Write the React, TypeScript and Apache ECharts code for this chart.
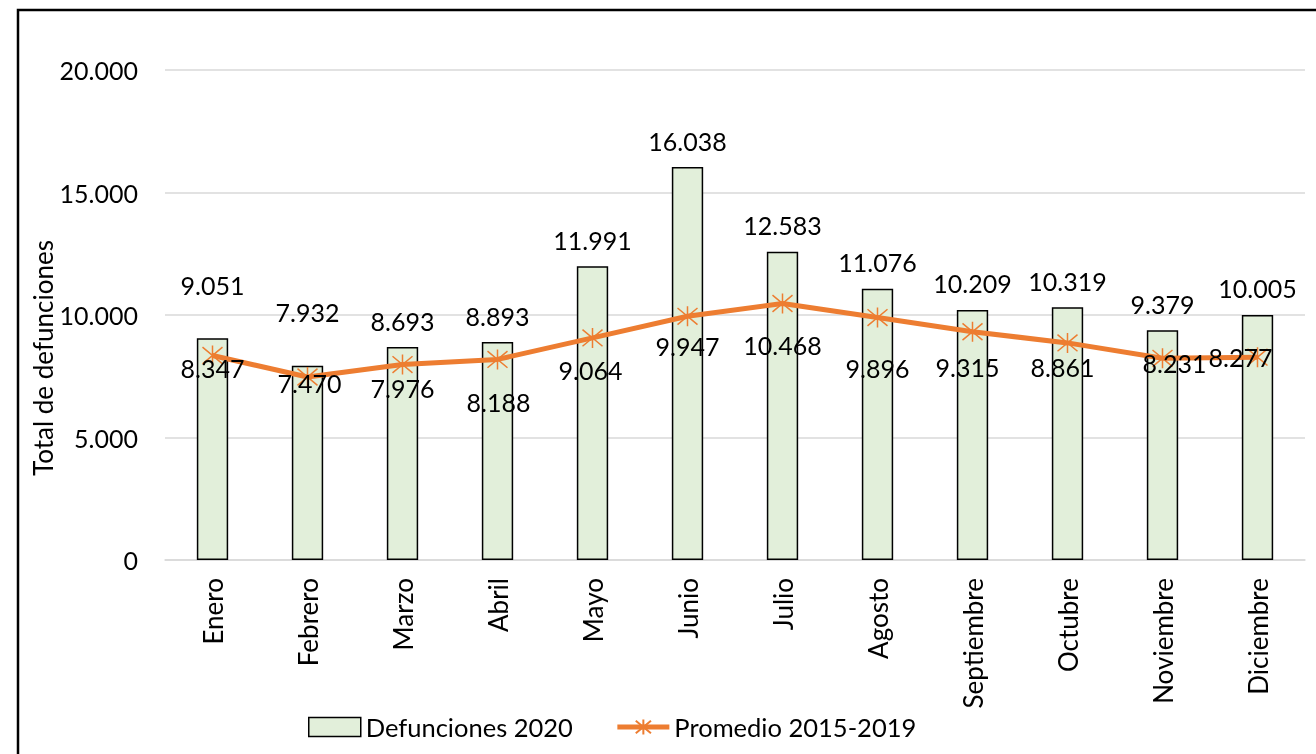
import React, { useEffect, useRef } from "react";
import * as echarts from "echarts";

const months = ["Enero", "Febrero", "Marzo", "Abril", "Mayo", "Junio", "Julio", "Agosto", "Septiembre", "Octubre", "Noviembre", "Diciembre"];
const deaths2020 = [9051, 7932, 8693, 8893, 11991, 16038, 12583, 11076, 10209, 10319, 9379, 10005];
const avg2015_2019 = [8347, 7470, 7976, 8188, 9064, 9947, 10468, 9896, 9315, 8861, 8231, 8277];
const yTicks = { min: 0, max: 20000, interval: 5000 };

// label placement tweaks (presentation only)
const lineLabelShift: [number, number][] = [
  [0, 13], [2, 6], [0, 23], [1, 43], [-2, 32], [0, 30], [0, 41], [0, 50], [-5, 35], [-5, 24], [12, 5], [-17, 0],
];
const barLabelExtra = [27, 27, 0, 0, 0, 0, 0, 0, 0, 0, 0, 0];

const FONT = "Lato";
const fmt = (v: number) => String(v).replace(/\B(?=(\d{3})+(?!\d))/g, ".");

export default function App() {
  const ref = useRef<HTMLDivElement>(null);
  useEffect(() => {
    if (!ref.current) return;
    const chart = echarts.init(ref.current, null, { renderer: "svg" });
    chart.setOption({
      animation: false,
      textStyle: { fontFamily: FONT },
      graphic: [
        {
          type: "rect",
          shape: { x: 18, y: 10, width: 1400, height: 900 },
          style: { fill: "none", stroke: "#000", lineWidth: 2.5 },
          silent: true,
        },
      ],
      grid: { left: 165, right: 11, top: 70, bottom: 194, containLabel: false },
      legend: {
        left: 303,
        top: 709,
        itemGap: 42,
        textStyle: { fontFamily: FONT, fontSize: 25.5, color: "#000" },
        data: [
          { name: "Defunciones 2020", icon: "rect", itemStyle: { color: "#E2EFDA", borderColor: "#000", borderWidth: 1.5 } },
          { name: "Promedio 2015-2019", lineStyle: { width: 5, color: "#ED7D31" } },
        ],
        itemWidth: 52,
        itemHeight: 19,
      },
      xAxis: {
        type: "category",
        data: months,
        axisLine: { show: true, lineStyle: { color: "#d9d9d9", width: 1.5 } },
        axisTick: { show: false },
        axisLabel: { rotate: 90, fontSize: 26, color: "#000", fontFamily: FONT, margin: 18 },
      },
      yAxis: {
        type: "value",
        min: yTicks.min,
        max: yTicks.max,
        interval: yTicks.interval,
        name: "Total de defunciones",
        nameLocation: "middle",
        nameGap: 109,
        nameMoveOverlap: false,
        nameTextStyle: { fontSize: 26, color: "#000", fontFamily: FONT, padding: [0, 86, 0, 0] },
        axisLabel: { fontSize: 25, color: "#000", fontFamily: FONT, margin: 27, formatter: (v: number) => fmt(v) },
        splitLine: { lineStyle: { color: "#d9d9d9", width: 1.5 } },
        axisLine: { show: false },
        axisTick: { show: false },
      },
      series: [
        {
          name: "Defunciones 2020",
          type: "bar",
          barWidth: "33%",
          data: deaths2020.map((v, i) => ({
            value: v,
            label: { distance: 14 + barLabelExtra[i] },
          })),
          itemStyle: { color: "#E2EFDA", borderColor: "#000", borderWidth: 1.5 },
          label: {
            show: true,
            position: "top",
            fontSize: 25,
            color: "#000",
            fontFamily: FONT,
            formatter: (p: any) => fmt(p.value),
          },
        },
        {
          name: "Promedio 2015-2019",
          type: "line",
          data: avg2015_2019.map((v, i) => ({
            value: v,
            label: { offset: lineLabelShift[i] },
          })),
          lineStyle: { color: "#ED7D31", width: 5 },
          itemStyle: { color: "#ED7D31", borderColor: "#ED7D31", borderWidth: 1.5 },
          symbol: "path://M0,0 L10,10 M10,0 L0,10 M5,-1 L5,11",
          symbolSize: 20,
          label: {
            show: true,
            position: "inside",
            fontSize: 25,
            color: "#000",
            fontFamily: FONT,
            formatter: (p: any) => fmt(p.value),
          },
          z: 3,
        },
      ],
    });
    return () => chart.dispose();
  }, []);
  return <div ref={ref} style={{ position: "fixed", left: 0, top: 0, width: 1316, height: 754 }} />;
}
